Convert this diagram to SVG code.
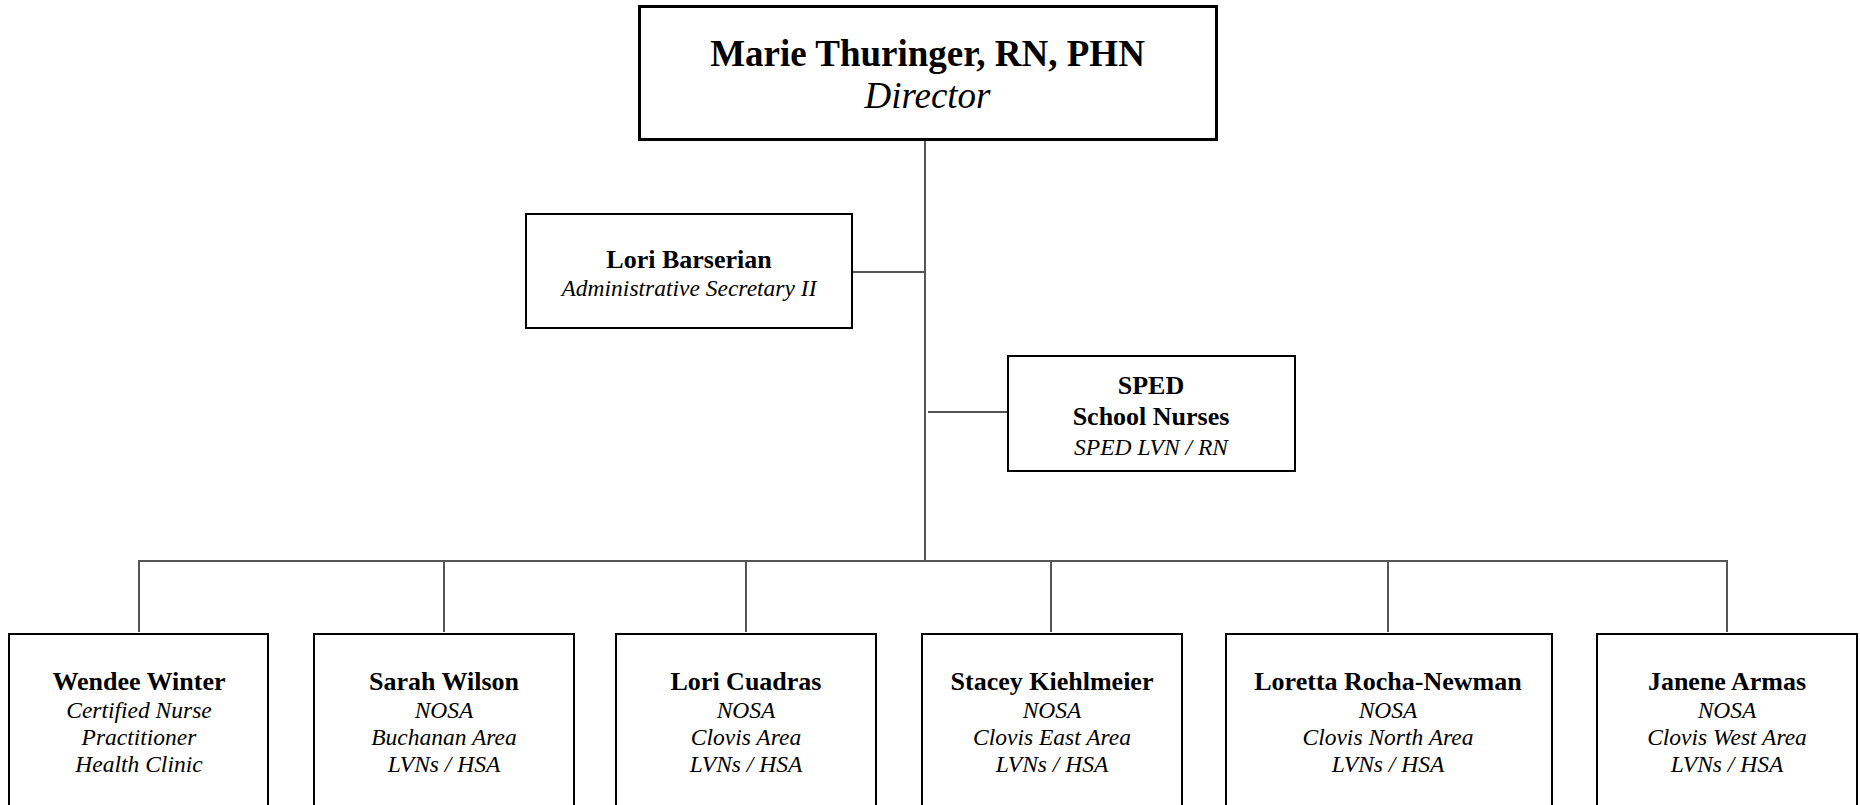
<svg xmlns="http://www.w3.org/2000/svg" width="1860" height="805" viewBox="0 0 1860 805">
<style>
.box{fill:#fff;stroke:#000;stroke-width:2}
.top{fill:#fff;stroke:#000;stroke-width:3}
.con line{stroke:#555;stroke-width:2}
text{font-family:"Liberation Serif","Times New Roman",serif;fill:#000;text-anchor:middle}
.b{font-weight:bold;font-size:26px}
.i{font-style:italic;font-size:23.5px}
.tb{font-weight:bold;font-size:37px}
.ti{font-style:italic;font-size:37px}
</style>
<rect width="1860" height="805" fill="#fff"/>
<g id="connectors" class="con">
<line x1="925" y1="140" x2="925" y2="562"/>
<line x1="852" y1="272" x2="925" y2="272"/>
<line x1="928" y1="412" x2="1007" y2="412"/>
<line x1="138" y1="561" x2="1728" y2="561"/>
<line x1="139" y1="561" x2="139" y2="632"/>
<line x1="444" y1="561" x2="444" y2="632"/>
<line x1="746" y1="561" x2="746" y2="632"/>
<line x1="1051" y1="561" x2="1051" y2="632"/>
<line x1="1388" y1="561" x2="1388" y2="632"/>
<line x1="1727" y1="561" x2="1727" y2="632"/>
</g>
<g id="director">
<rect class="top" x="639.5" y="6.5" width="577" height="133"/>
<text class="tb" x="927.5" y="66">Marie Thuringer, RN, PHN</text>
<text class="ti" x="927.5" y="108">Director</text>
</g>
<g id="secretary">
<rect class="box" x="526" y="214" width="326" height="114"/>
<text class="b" x="689" y="268">Lori Barserian</text>
<text class="i" x="689" y="296">Administrative Secretary II</text>
</g>
<g id="sped">
<rect class="box" x="1008" y="356" width="287" height="115"/>
<text class="b" x="1151" y="394">SPED</text>
<text class="b" x="1151" y="425">School Nurses</text>
<text class="i" x="1151" y="455">SPED LVN / RN</text>
</g>
<g id="wendee">
<rect class="box" x="9" y="634" width="259" height="180"/>
<text class="b" x="139" y="690">Wendee Winter</text>
<text class="i" x="139" y="718">Certified Nurse</text>
<text class="i" x="139" y="745">Practitioner</text>
<text class="i" x="139" y="772">Health Clinic</text>
</g>
<g id="sarah">
<rect class="box" x="314" y="634" width="260" height="180"/>
<text class="b" x="444" y="690">Sarah Wilson</text>
<text class="i" x="444" y="718">NOSA</text>
<text class="i" x="444" y="745">Buchanan Area</text>
<text class="i" x="444" y="772">LVNs / HSA</text>
</g>
<g id="cuadras">
<rect class="box" x="616" y="634" width="260" height="180"/>
<text class="b" x="746" y="690">Lori Cuadras</text>
<text class="i" x="746" y="718">NOSA</text>
<text class="i" x="746" y="745">Clovis Area</text>
<text class="i" x="746" y="772">LVNs / HSA</text>
</g>
<g id="stacey">
<rect class="box" x="922" y="634" width="260" height="180"/>
<text class="b" x="1052" y="690">Stacey Kiehlmeier</text>
<text class="i" x="1052" y="718">NOSA</text>
<text class="i" x="1052" y="745">Clovis East Area</text>
<text class="i" x="1052" y="772">LVNs / HSA</text>
</g>
<g id="loretta">
<rect class="box" x="1226" y="634" width="326" height="180"/>
<text class="b" x="1388" y="690">Loretta Rocha-Newman</text>
<text class="i" x="1388" y="718">NOSA</text>
<text class="i" x="1388" y="745">Clovis North Area</text>
<text class="i" x="1388" y="772">LVNs / HSA</text>
</g>
<g id="janene">
<rect class="box" x="1597" y="634" width="260" height="180"/>
<text class="b" x="1727" y="690">Janene Armas</text>
<text class="i" x="1727" y="718">NOSA</text>
<text class="i" x="1727" y="745">Clovis West Area</text>
<text class="i" x="1727" y="772">LVNs / HSA</text>
</g>
</svg>
